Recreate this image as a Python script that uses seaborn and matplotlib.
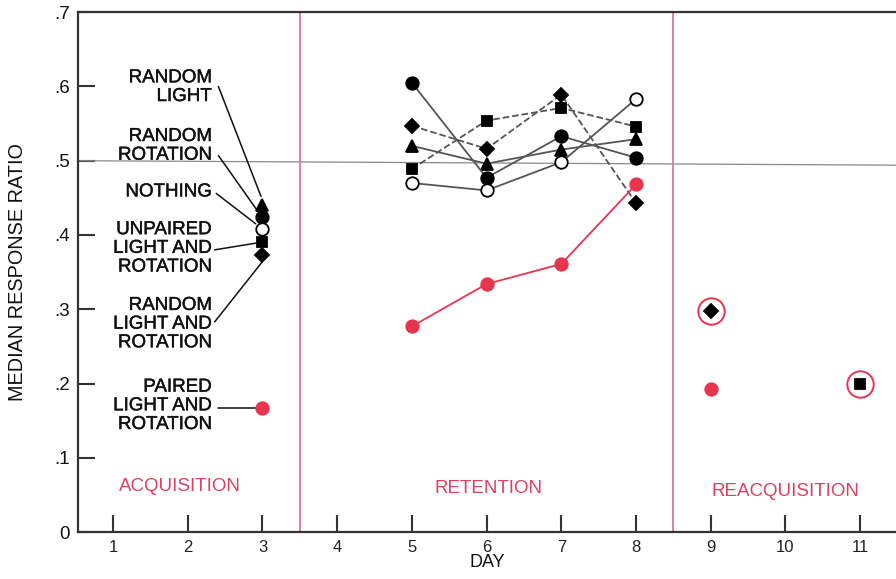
import matplotlib
matplotlib.use("Agg")
import matplotlib.pyplot as plt
import matplotlib.patheffects as pe
import seaborn as sns
import pandas as pd

# ---- data ----
groups = ["Random light", "Random rotation", "Nothing",
          "Unpaired light and rotation", "Random light and rotation",
          "Paired light and rotation"]
acq_day = 3
acq_values = [0.441, 0.424, 0.408, 0.390, 0.373, 0.167]

ret_days = [5, 6, 7, 8]
ret_random_light = [0.520, 0.496, 0.515, 0.529]
ret_random_rotation = [0.605, 0.477, 0.533, 0.504]
ret_nothing = [0.470, 0.460, 0.498, 0.583]
ret_unpaired = [0.489, 0.554, 0.571, 0.546]
ret_random_lr = [0.547, 0.516, 0.589, 0.443]
ret_paired = [0.277, 0.334, 0.361, 0.468]

reacq_days = [9, 9, 11]
reacq_groups = ["Random light and rotation", "Paired light and rotation",
                "Unpaired light and rotation"]
reacq_values = [0.297, 0.192, 0.199]
reacq_circled = [True, False, True]

label_text = ["RANDOM\nLIGHT", "RANDOM\nROTATION", "NOTHING",
              "UNPAIRED\nLIGHT AND\nROTATION", "RANDOM\nLIGHT AND\nROTATION",
              "PAIRED\nLIGHT AND\nROTATION"]
phase_names = ["ACQUISITION", "RETENTION", "REACQUISITION"]
x_ticks = list(range(1, 12))
y_ticks = [0, 0.1, 0.2, 0.3, 0.4, 0.5, 0.6, 0.7]
y_ticklabels = ["0", ".1", ".2", ".3", ".4", ".5", ".6", ".7"]

# ---- styling ----
RED = "#e8354f"
PINK_TXT = "#e0405f"
PINK_LINE = "#d8789a"
GRAY = "#555555"
INK = "#111111"
style = {
    "Random light": dict(marker="^", mfc="black", ls="-"),
    "Random rotation": dict(marker="o", mfc="black", ls="-"),
    "Nothing": dict(marker="o", mfc="white", ls="-"),
    "Unpaired light and rotation": dict(marker="s", mfc="black", ls="--"),
    "Random light and rotation": dict(marker="D", mfc="black", ls="--"),
    "Paired light and rotation": dict(marker="o", mfc=RED, ls="-"),
}
msize = {"^": 9, "o": 9, "s": 7, "D": 7}
heavy = [pe.withStroke(linewidth=0.3, foreground=INK)]

sns.set_theme(style="white")
plt.rcParams["font.family"] = ["Liberation Sans", "DejaVu Sans"]

fig = plt.figure(figsize=(8.96, 5.79), dpi=100)
ax = fig.add_axes([0.087, 0.081, 0.913, 0.898])

ret_series = {
    "Random light": ret_random_light,
    "Random rotation": ret_random_rotation,
    "Nothing": ret_nothing,
    "Unpaired light and rotation": ret_unpaired,
    "Random light and rotation": ret_random_lr,
    "Paired light and rotation": ret_paired,
}
ret_df = pd.DataFrame(
    [(d, v, g) for g, vals in ret_series.items() for d, v in zip(ret_days, vals)],
    columns=["day", "ratio", "group"],
)

# Retention lines
for g in groups:
    st = style[g]
    red = g == "Paired light and rotation"
    sub = ret_df[ret_df["group"] == g]
    line_color = RED if red else GRAY
    edge = RED if red else "black"
    sns.lineplot(data=sub, x="day", y="ratio", ax=ax, color=line_color,
                 linewidth=1.3, linestyle=st["ls"], marker=st["marker"],
                 markersize=msize[st["marker"]], markerfacecolor=st["mfc"],
                 markeredgecolor=edge, markeredgewidth=1.3,
                 dashes=(4, 2.5) if st["ls"] == "--" else None, zorder=3)

# Acquisition points (day 3)
for g, v in zip(groups, acq_values):
    st = style[g]
    red = g == "Paired light and rotation"
    ax.plot([acq_day], [v], linestyle="none", marker=st["marker"],
            markersize=msize[st["marker"]], markerfacecolor=st["mfc"],
            markeredgecolor=RED if red else "black", markeredgewidth=1.3, zorder=4)

# Reacquisition points
for d, g, v, c in zip(reacq_days, reacq_groups, reacq_values, reacq_circled):
    st = style[g]
    red = g == "Paired light and rotation"
    ax.plot([d], [v], linestyle="none", marker=st["marker"],
            markersize=msize[st["marker"]], markerfacecolor=st["mfc"],
            markeredgecolor=RED if red else "black", markeredgewidth=1.3, zorder=4)
    if c:
        ax.plot([d], [v], linestyle="none", marker="o", markersize=19,
                markerfacecolor="none", markeredgecolor=RED,
                markeredgewidth=1.4, zorder=4)

# Reference line near .5 and phase dividers
ax.plot([0.53, 11.48], [0.5, 0.494], color="#8a8a8a", lw=0.9, zorder=1)
for xv in (3.5, 8.5):
    ax.axvline(xv, color=PINK_LINE, lw=1.3, zorder=1)

# Group labels with leader lines
label_y = [0.599, 0.520, 0.458, 0.382, 0.280, 0.170]
leaders = [((2.41, 0.600), (2.98, 0.452)),
           ((2.41, 0.507), (2.93, 0.433)),
           ((2.38, 0.456), (2.91, 0.415)),
           ((2.36, 0.380), (2.91, 0.389)),
           ((2.36, 0.283), (2.99, 0.363)),
           ((2.41, 0.167), (2.93, 0.167))]
for txt, y, (p0, p1) in zip(label_text, label_y, leaders):
    ax.text(2.32, y, txt, ha="right", va="center", fontsize=13.5,
            color=INK, linespacing=1.13, path_effects=heavy)
    ax.plot([p0[0], p1[0]], [p0[1], p1[1]], color=INK, lw=1.1, zorder=2)

# Phase names
for name, x, y in zip(phase_names, [1.9, 6.02, 10.0], [0.062, 0.059, 0.055]):
    ax.text(x, y, name, ha="center", va="center", fontsize=13.5, color=PINK_TXT)

ax.set_xlim(0.53, 11.48)
ax.set_ylim(0, 0.7)
ax.set_xticks(x_ticks)
ax.set_xticklabels([str(t) for t in x_ticks], fontsize=12, color="#222222")
ax.set_yticks(y_ticks)
ax.set_yticklabels(y_ticklabels, fontsize=13.5, color=INK)
ax.tick_params(axis="both", direction="in", length=12, width=1.5,
               color="#333333", left=True, bottom=True, pad=6)
ax.tick_params(axis="y", pad=6)
for side in ("left", "bottom", "top"):
    ax.spines[side].set_visible(True)
    ax.spines[side].set_color("#333333")
    ax.spines[side].set_linewidth(1.6)
ax.spines["right"].set_visible(False)
ax.set_xlabel("DAY", fontsize=13, color=INK, labelpad=-1)
ax.set_ylabel("MEDIAN RESPONSE RATIO", fontsize=14.3, color=INK, labelpad=19)
ax.grid(False)

fig.savefig("out.png", dpi=100, facecolor="white")
